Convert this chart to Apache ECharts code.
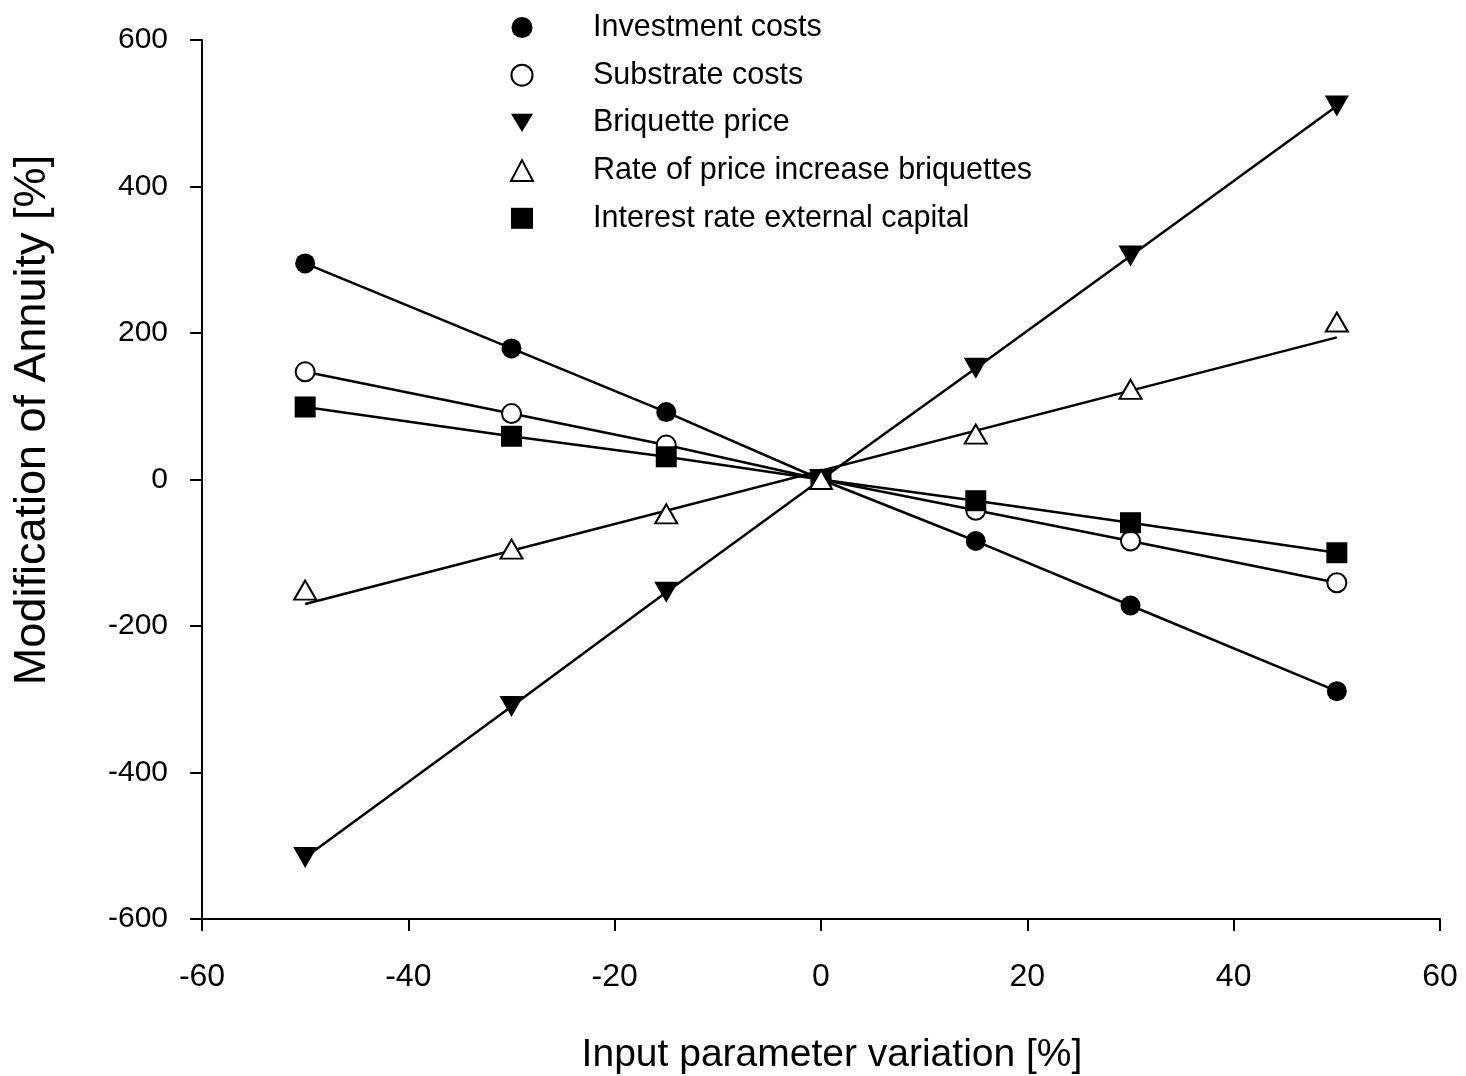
<!DOCTYPE html>
<html>
<head>
<meta charset="utf-8">
<script src="https://cdn.jsdelivr.net/npm/echarts@6/dist/echarts.min.js"></script>
<style>html,body{margin:0;padding:0;background:#fff;}#c{width:1466px;height:1076px;}</style>
</head>
<body>
<div id="c"></div>
<script>
const xVals = [-50, -30, -15, 0, 15, 30, 50];
const investment = [295, 179, 92, 0, -84, -172, -289];
const substrate = [147, 90, 47, 0, -42, -84, -141];
const briquette = [-516, -310, -154, 0, 152, 305, 510];
const rateIncrease = [-151, -95, -47, 0, 62, 123, 215];
const rateFitX = [-50, 50];
const rateFitY = [-170, 194];
const interest = [99, 59, 31, 0, -29, -59, -100];
const names = ['Investment costs', 'Substrate costs', 'Briquette price', 'Rate of price increase briquettes', 'Interest rate external capital'];

const FONT = 'Liberation Sans, Arial, sans-serif';
const downTri = 'path://M0,0 L24,0 L12,20 Z';
const pairs = (ys, xs) => (xs || xVals).map((x, i) => [x, ys[i]]);

const chart = echarts.init(document.getElementById('c'));
const lineStyle = { color: '#000', width: 2.5 };
chart.setOption({
  animation: false,
  backgroundColor: '#fff',
  grid: { left: 202, right: 26, top: 40, bottom: 157 },
  legend: {
    orient: 'vertical',
    left: 510, top: 12,
    padding: 0,
    itemWidth: 22, itemHeight: 21,
    itemGap: 16.7,
    textStyle: { fontFamily: FONT, fontSize: 30.5, color: '#000', lineHeight: 30, padding: [0, 0, 0, 55] },
    data: [
      { name: names[0], icon: 'circle' },
      { name: names[1], icon: 'circle' },
      { name: names[2], icon: downTri },
      { name: names[3], icon: 'triangle' },
      { name: names[4], icon: 'rect' }
    ]
  },
  xAxis: {
    type: 'value', min: -60, max: 60, interval: 20,
    axisLine: { show: true, onZero: false, lineStyle: { color: '#000', width: 2 } },
    axisTick: { show: true, length: 12, lineStyle: { color: '#000', width: 2 } },
    axisLabel: { color: '#000', fontFamily: FONT, fontSize: 32, margin: 42 },
    splitLine: { show: false }
  },
  yAxis: {
    type: 'value', min: -600, max: 600, interval: 200,
    axisLine: { show: true, onZero: false, lineStyle: { color: '#000', width: 2 } },
    axisTick: { show: true, length: 12, lineStyle: { color: '#000', width: 2 } },
    axisLabel: { color: '#000', fontFamily: FONT, fontSize: 30, margin: 34 },
    splitLine: { show: false }
  },
  graphic: [
    { type: 'text', style: { text: 'Input parameter variation [%]', fontFamily: FONT, fontSize: 39, fill: '#000', x: 832, y: 1055, align: 'center', verticalAlign: 'middle' } },
    { type: 'text', x: 33, y: 420, rotation: Math.PI / 2, style: { text: 'Modification of Annuity [%]', fontFamily: FONT, fontSize: 45, fill: '#000', align: 'center', verticalAlign: 'middle' } }
  ],
  series: [
    { name: names[0], type: 'line', data: pairs(investment), symbol: 'circle', symbolSize: 20,
      itemStyle: { color: '#000', borderColor: '#000', borderWidth: 0 }, lineStyle, z: 3 },
    { name: names[1], type: 'line', data: pairs(substrate), symbol: 'circle', symbolSize: 19,
      itemStyle: { color: '#fff', borderColor: '#000', borderWidth: 2 }, lineStyle, z: 3 },
    { name: names[2], type: 'line', data: pairs(briquette), symbol: downTri, symbolSize: [24, 21],
      itemStyle: { color: '#000', borderColor: '#000', borderWidth: 0 }, lineStyle, z: 3 },
    { name: names[3], type: 'scatter', data: pairs(rateIncrease), symbol: 'triangle', symbolSize: [22, 19],
      itemStyle: { color: '#fff', borderColor: '#000', borderWidth: 2, opacity: 1 }, z: 4 },
    { name: names[3] + ' fit', type: 'line', data: pairs(rateFitY, rateFitX), symbol: 'none', lineStyle, z: 2 },
    { name: names[4], type: 'line', data: pairs(interest), symbol: 'rect', symbolSize: 21,
      itemStyle: { color: '#000', borderColor: '#000', borderWidth: 0 }, lineStyle, z: 3 }
  ]
});
</script>
</body>
</html>
